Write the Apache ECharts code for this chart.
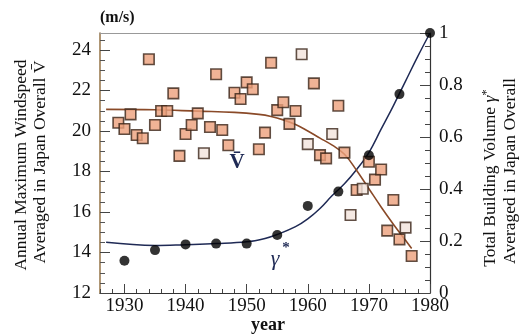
<!DOCTYPE html>
<html><head><meta charset="utf-8">
<script src="https://cdn.jsdelivr.net/npm/echarts@6/dist/echarts.min.js"></script>
<style>html,body{margin:0;padding:0;background:#fff}#c{width:523px;height:335px}</style>
</head><body><div id="c"></div>
<script>
// ---- data ----
var windYears = [1929,1930,1931,1932,1933,1934,1935,1936,1937,1938,1939,1940,1941,1942,1943,1944,1945,1946,1947,1948,1949,1950,1951,1952,1953,1954,1955,1956,1957,1958,1959,1960,1961,1962,1963,1964,1965,1966,1967,1968,1969,1970,1971,1972,1973,1974,1975,1976,1977];
var windSpeed = [20.41,20.10,20.82,19.80,19.64,23.54,20.30,20.99,20.99,21.86,18.77,19.85,20.30,20.87,18.90,20.20,22.80,20.05,19.30,21.89,21.58,22.40,22.06,19.10,19.92,23.37,21.03,21.42,20.35,20.99,23.79,19.35,22.35,18.81,18.65,19.85,21.25,18.93,15.85,17.09,17.15,18.48,17.60,18.10,15.08,16.59,14.65,15.23,13.83];
var windFitYears = [1927,1935,1942,1948,1952,1954,1956,1958,1960,1962,1964,1966,1968,1970,1972,1974,1976,1977];
var windFit = [21.07,21.05,20.98,20.92,20.82,20.72,20.55,20.32,20.00,19.65,19.30,18.85,18.05,17.15,16.25,15.40,14.60,14.20];
var volYears = [1930,1935,1940,1945,1950,1955,1960,1965,1970,1975,1980];
var volume = [0.124,0.165,0.187,0.190,0.190,0.223,0.335,0.390,0.530,0.765,1.000];
var volFitYears = [1927,1935,1940,1945,1950,1953,1955,1958,1960,1962,1964,1966,1968,1970,1972,1974,1976,1978,1980];
var volFit = [0.195,0.183,0.186,0.190,0.197,0.210,0.225,0.255,0.285,0.325,0.375,0.420,0.475,0.540,0.630,0.720,0.815,0.910,1.000];
var xTickLabels = [1930,1940,1950,1960,1970,1980];
var leftTickLabels = [12,14,16,18,20,22,24];
var rightTickLabels = [0,0.2,0.4,0.6,0.8,1];

// ---- helpers ----
function range(a, b, s){ var r=[]; for (var v=a; v<=b+1e-9; v+=s) r.push(+v.toFixed(4)); return r; }
function pairs(xs, ys){ return xs.map(function(x,i){ return [x, ys[i]]; }); }
var SERIF = 'Liberation Serif';
var paleYears = [1943,1959,1960,1964,1967,1969,1976];

var chart = echarts.init(document.getElementById('c'), null, {renderer:'canvas'});
var xMin = 1926, xMax = 1980, lMin = 12, lMax = 24.84;
var baseX = {type:'value', min:xMin, max:xMax, splitLine:{show:false}, axisLabel:{show:false}, axisTick:{show:false}, axisLine:{show:false}};
var baseYL = {type:'value', min:lMin, max:lMax, position:'left', splitLine:{show:false}, axisLabel:{show:false}, axisTick:{show:false}, axisLine:{show:false}};
var baseYR = {type:'value', min:0, max:1, position:'right', splitLine:{show:false}, axisLabel:{show:false}, axisTick:{show:false}, axisLine:{show:false}};
var plain = function(v){ return String(v); };

chart.setOption({
  animation:false,
  backgroundColor:'#fff',
  grid:{left:100, right:93, top:33, bottom:42, containLabel:false},
  xAxis:[
    Object.assign({}, baseX, {position:'bottom', axisLine:{show:true, onZero:false, lineStyle:{color:'#333', width:1.2}},
      axisTick:{show:true, inside:true, length:4, customValues:range(1926,1980,2), lineStyle:{color:'#444'}}}),
    Object.assign({}, baseX, {position:'bottom',
      axisTick:{show:true, inside:true, length:9, customValues:xTickLabels, lineStyle:{color:'#444'}},
      axisLabel:{show:true, customValues:xTickLabels, margin:4, fontSize:19, fontFamily:SERIF, color:'#111', formatter:plain}}),
    Object.assign({}, baseX, {position:'top', axisLine:{show:true, onZero:false, lineStyle:{color:'#999', width:1}}})
  ],
  yAxis:[
    Object.assign({}, baseYL, {axisLine:{show:true, onZero:false, lineStyle:{color:'#9c7c52', width:1.6}},
      axisTick:{show:true, inside:true, length:5, customValues:range(12,24.5,0.5), lineStyle:{color:'#555'}}}),
    Object.assign({}, baseYL, {
      axisTick:{show:true, inside:true, length:10, customValues:leftTickLabels, lineStyle:{color:'#444'}},
      axisLabel:{show:true, customValues:leftTickLabels, margin:9, fontSize:19, fontFamily:SERIF, color:'#111', formatter:plain}}),
    Object.assign({}, baseYR, {axisLine:{show:true, onZero:false, lineStyle:{color:'#333', width:1.2}},
      axisTick:{show:true, inside:true, length:5, customValues:range(0,1,0.05), lineStyle:{color:'#444'}}}),
    Object.assign({}, baseYR, {
      axisTick:{show:true, inside:true, length:10, customValues:rightTickLabels, lineStyle:{color:'#444'}},
      axisLabel:{show:true, customValues:rightTickLabels, margin:9, fontSize:19, fontFamily:SERIF, color:'#111', formatter:plain}})
  ],
  series:[
    {type:'line', xAxisIndex:0, yAxisIndex:2, data:pairs(volFitYears, volFit), smooth:0.4, showSymbol:false,
      lineStyle:{color:'#1f2a55', width:1.5}, z:2},
    {type:'line', xAxisIndex:0, yAxisIndex:0, data:pairs(windFitYears, windFit), smooth:0.4, showSymbol:false,
      lineStyle:{color:'#8a4a28', width:1.6}, z:3},
    {type:'scatter', xAxisIndex:0, yAxisIndex:0, data:pairs(windYears, windSpeed), symbol:'rect', symbolSize:10.5,
      itemStyle:{color:function(p){ return paleYears.indexOf(p.value[0])>=0 ? '#f3e4dc' : '#eca07c'; }, borderColor:'#3a2418', borderWidth:1.6}, z:4},
    {type:'scatter', xAxisIndex:0, yAxisIndex:2, data:pairs(volYears, volume), symbol:'circle', symbolSize:10,
      itemStyle:{color:'#000'}, z:5}
  ],
  graphic:[
    {type:'text', x:100, y:18, style:{text:'(m/s)', font:'bold 16px "Liberation Serif"', fill:'#111', verticalAlign:'middle'}},
    {type:'text', x:268, y:325, style:{text:'year', font:'bold 18px "Liberation Serif"', fill:'#111', align:'center', verticalAlign:'middle'}},
    {type:'text', x:21, y:165, rotation:Math.PI/2, style:{text:'Annual Maximum Windspeed', font:'17.5px "Liberation Serif"', fill:'#111', align:'center', verticalAlign:'middle'}},
    {type:'text', x:40, y:162, rotation:Math.PI/2, style:{text:'Averaged in Japan Overall V\u0304', font:'17.5px "Liberation Serif"', fill:'#111', align:'center', verticalAlign:'middle'}},
    {type:'text', x:490, y:178, rotation:Math.PI/2, style:{
      rich:{n:{font:'17.5px "Liberation Serif"', fill:'#111'}, g:{font:'italic 17.5px "Liberation Serif"', fill:'#111'}, s:{font:'13px "Liberation Serif"', fill:'#111', verticalAlign:'top', padding:[0,0,6,0]}},
      text:'{n|Total Building Volume }{g|γ}{s|*}', align:'center', verticalAlign:'middle'}},
    {type:'text', x:510, y:171, rotation:Math.PI/2, style:{text:'Averaged in Japan Overall', font:'17.5px "Liberation Serif"', fill:'#111', align:'center', verticalAlign:'middle'}},
    {type:'text', x:237, y:163, style:{text:'V\u0304', font:'bold 21px "Liberation Serif"', fill:'#1f2a55', align:'center', verticalAlign:'middle'}},
    {type:'text', x:275, y:259, style:{text:'γ', font:'italic 22px "Liberation Serif"', fill:'#1f2a55', align:'center', verticalAlign:'middle'}},
    {type:'text', x:286, y:248, style:{text:'*', font:'bold 15px "Liberation Serif"', fill:'#1f2a55', align:'center', verticalAlign:'middle'}}
  ]
});
</script></body></html>
